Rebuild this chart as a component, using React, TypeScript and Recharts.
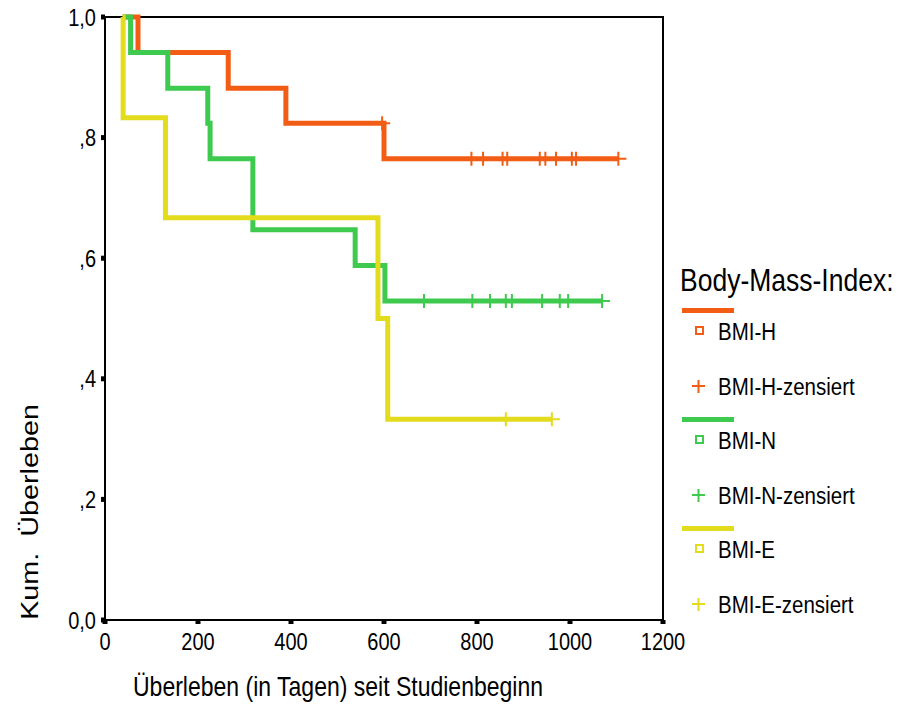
import React from 'react'
import {
  ComposedChart,
  Line,
  Scatter,
  XAxis,
  YAxis,
  ReferenceArea
} from 'recharts'

// Kaplan-Meier step points: time (days) and cumulative survival after that time
const hTimes = [38, 71, 265, 389, 600, 1104]
const hSurv = [1, 0.941, 0.882, 0.824, 0.765, 0.765]
const hCensTimes = [596, 788, 813, 855, 865, 935, 947, 970, 1004, 1013, 1104]
const hCensSurv = [0.824, 0.765, 0.765, 0.765, 0.765, 0.765, 0.765, 0.765, 0.765, 0.765, 0.765]

const nTimes = [38, 55, 135, 221, 226, 318, 538, 602, 1069]
const nSurv = [1, 0.941, 0.882, 0.824, 0.765, 0.647, 0.588, 0.529, 0.529]
const nCensTimes = [686, 790, 828, 862, 875, 940, 978, 996, 1069]
const nCensSurv = [0.529, 0.529, 0.529, 0.529, 0.529, 0.529, 0.529, 0.529, 0.529]

const eTimes = [38, 39, 130, 587, 608, 961]
const eSurv = [1, 0.833, 0.667, 0.5, 0.333, 0.333]
const eCensTimes = [862, 961]
const eCensSurv = [0.333, 0.333]

const xTicks = [0, 200, 400, 600, 800, 1000, 1200]
const yTicks = [0, 0.2, 0.4, 0.6, 0.8, 1]

const groups = ['BMI-H', 'BMI-N', 'BMI-E']
const colors = ['#f25c14', '#3ec94f', '#e3dc1c']

const toPoints = (t: number[], s: number[]) => t.map((v, i) => ({ t: v, s: s[i] }))

const font = '"Liberation Sans", Arial, sans-serif'
// the original export looks stretched vertically, so text gets a small Y scale
const stretch = 1.2

const fmtY = (v: number) => {
  if (v === 0) return '0,0'
  if (v === 1) return '1,0'
  return ',' + Math.round(v * 10)
}

const censorShape = (color: string) => (props: any) => {
  const { cx, cy } = props
  return (
    <path
      d={`M${cx - 7},${cy}H${cx + 8}M${cx},${cy - 7}V${cy + 7}`}
      stroke={color}
      strokeWidth={2}
      fill="none"
    />
  )
}

const XTick = (props: any) => {
  const { x, y, payload } = props
  return (
    <g transform={`translate(${x},${y}) scale(1,${stretch})`}>
      <text textAnchor="middle" dy="0.71em" fontSize={20} fontFamily={font} fill="#000">
        {payload.value}
      </text>
    </g>
  )
}

const YTick = (props: any) => {
  const { x, y, payload } = props
  return (
    <g transform={`translate(${x},${y}) scale(1,${stretch})`}>
      <text textAnchor="end" dy="0.355em" fontSize={20} fontFamily={font} fill="#000">
        {fmtY(payload.value)}
      </text>
    </g>
  )
}

const txt = (size: number): React.CSSProperties => ({
  fontSize: size,
  whiteSpace: 'nowrap',
  transform: `scaleY(${stretch})`,
  transformOrigin: 'left center'
})

function KMLegend() {
  return (
    <div style={{ position: 'absolute', left: 672, top: 257, fontFamily: font, color: '#000' }}>
      <div style={txt(26.5)}>Body-Mass-Index:</div>
      {groups.map((g, i) => (
        <div key={g} style={{ position: 'absolute', left: 0, top: 43 + i * 109, width: 230 }}>
          <div style={{ position: 'absolute', left: 2, top: 0, width: 52, height: 5, background: colors[i] }} />
          <div
            style={{
              position: 'absolute',
              left: 15,
              top: 18,
              width: 5,
              height: 5,
              border: `2px solid ${colors[i]}`,
              background: '#fff'
            }}
          />
          <div style={{ position: 'absolute', left: 38, top: 12, ...txt(20.5) }}>{g}</div>
          <svg style={{ position: 'absolute', left: 11, top: 71 }} width={16} height={16}>
            <path d="M1,7H14M7.5,1V14" stroke={colors[i]} strokeWidth={2} />
          </svg>
          <div style={{ position: 'absolute', left: 38, top: 67, ...txt(20.5) }}>{g}-zensiert</div>
        </div>
      ))}
    </div>
  )
}

export default function App() {
  const series = [
    { name: groups[0], line: toPoints(hTimes, hSurv), cens: toPoints(hCensTimes, hCensSurv), color: colors[0] },
    { name: groups[1], line: toPoints(nTimes, nSurv), cens: toPoints(nCensTimes, nCensSurv), color: colors[1] },
    { name: groups[2], line: toPoints(eTimes, eSurv), cens: toPoints(eCensTimes, eCensSurv), color: colors[2] }
  ]

  return (
    <div style={{ position: 'relative', width: 895, height: 710, background: '#fff' }}>
      <style>{'.recharts-surface { overflow: visible; }'}</style>
      <ComposedChart width={895} height={710} margin={{ top: 9, right: 240, bottom: 68, left: 0 }}>
        <XAxis
          dataKey="t"
          type="number"
          domain={[0, 1200]}
          ticks={xTicks}
          allowDataOverflow
          height={30}
          tickSize={4}
          tickMargin={9}
          axisLine={{ stroke: '#000', strokeWidth: 2 }}
          tickLine={{ stroke: '#000', strokeWidth: 5 }}
          tick={XTick}
        />
        <YAxis
          dataKey="s"
          type="number"
          domain={[0, 1]}
          ticks={yTicks}
          width={97}
          tickSize={4}
          tickMargin={5}
          axisLine={{ stroke: '#000', strokeWidth: 2 }}
          tickLine={{ stroke: '#000', strokeWidth: 5 }}
          tick={YTick}
        />
        <ReferenceArea x1={0} x2={1200} y1={0} y2={1} fill="none" stroke="#000" strokeWidth={2} />
        {series.map((s) => (
          <Line
            key={s.name}
            data={s.line}
            dataKey="s"
            type="stepAfter"
            stroke={s.color}
            strokeWidth={5}
            dot={false}
            activeDot={false}
            isAnimationActive={false}
          />
        ))}
        {series.map((s) => (
          <Scatter
            key={s.name + '-c'}
            data={s.cens}
            dataKey="s"
            shape={censorShape(s.color)}
            isAnimationActive={false}
          />
        ))}
      </ComposedChart>
      <KMLegend />
      <div
        style={{
          position: 'absolute',
          left: 125,
          top: 666,
          fontFamily: font,
          ...txt(23)
        }}
      >
        Überleben (in Tagen) seit Studienbeginn
      </div>
      <div
        style={{
          position: 'absolute',
          left: 22,
          top: 504,
          fontSize: 23,
          fontFamily: font,
          whiteSpace: 'pre',
          transform: `translate(-50%, -50%) rotate(-90deg) scaleX(1.25)`
        }}
      >
        Kum.  Überleben
      </div>
    </div>
  )
}
